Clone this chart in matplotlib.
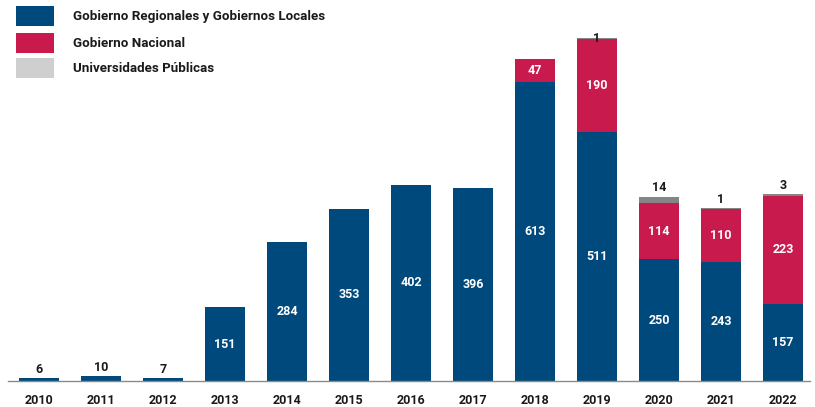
import matplotlib
matplotlib.use("Agg")
import matplotlib.pyplot as plt
from matplotlib.patches import Rectangle
import numpy as np

years = ["2010", "2011", "2012", "2013", "2014", "2015", "2016", "2017", "2018", "2019", "2020", "2021", "2022"]
regional = [6, 10, 7, 151, 284, 353, 402, 396, 613, 511, 250, 243, 157]
nacional = [0, 0, 0, 0, 0, 0, 0, 0, 47, 190, 114, 110, 223]
universidades = [0, 0, 0, 0, 0, 0, 0, 0, 0, 1, 14, 1, 3]
series_names = ["Gobierno Regionales y Gobiernos Locales", "Gobierno Nacional", "Universidades Públicas"]

BLUE = "#00497c"
RED = "#c91a4d"
GREY_BAR = "#858585"
GREY_LEG = "#cfcfcf"

plt.rcParams["font.family"] = ["Roboto", "DejaVu Sans"]

fig = plt.figure(figsize=(8.15, 4.07), dpi=100)
ax = fig.add_axes([8 / 815, 26 / 407, 802 / 815, 381 / 407])

x = np.arange(len(years))
reg = np.array(regional)
nac = np.array(nacional)
uni = np.array(universidades)
w = 40 / 62

ax.bar(x, reg, width=w, color=BLUE, edgecolor="none")
ax.bar(x, nac, width=w, bottom=reg, color=RED, edgecolor="none")
ax.bar(x, uni, width=w, bottom=reg + nac, color=GREY_BAR, edgecolor="none")

lab_kw = dict(ha="center", fontsize=9, fontweight="bold")
for i in range(len(years)):
    total = reg[i] + nac[i] + uni[i]
    if reg[i] >= 50:
        ax.text(x[i], reg[i] / 2, str(reg[i]), va="center", color="white", **lab_kw)
    else:
        ax.annotate(str(reg[i]), (x[i], reg[i]), xytext=(0, 1.5), textcoords="offset points",
                    va="bottom", color="#1a1a1a", **lab_kw)
    if nac[i] > 0:
        ax.text(x[i], reg[i] + nac[i] / 2, str(nac[i]), va="center", color="white", **lab_kw)
    if uni[i] > 0:
        if total > 690:
            ax.annotate(str(uni[i]), (x[i], total), xytext=(0, 0), textcoords="offset points",
                        va="center", color="#1a1a1a", **lab_kw)
        else:
            ax.annotate(str(uni[i]), (x[i], total), xytext=(0, 1.5), textcoords="offset points",
                        va="bottom", color="#1a1a1a", **lab_kw)

ax.set_xlim(-0.5, 12.435)
ax.set_ylim(0, 381 / 0.488)
for s in ["top", "right", "left"]:
    ax.spines[s].set_visible(False)
ax.spines["bottom"].set_color("#8a8a8a")
ax.spines["bottom"].set_linewidth(1.0)
ax.set_yticks([])
ax.set_xticks(x)
ax.set_xticklabels(years, fontsize=9, fontweight="bold", color="#1a1a1a")
ax.tick_params(axis="x", length=0, pad=9)

# legend
leg_colors = [BLUE, RED, GREY_LEG]
leg_y = [6, 33, 58]
for name, col, yt in zip(series_names, leg_colors, leg_y):
    fig.add_artist(Rectangle((16 / 815, 1 - (yt + 20) / 407), 38 / 815, 20 / 407,
                             transform=fig.transFigure, color=col, lw=0))
    fig.text(73 / 815, 1 - (yt + 10.5) / 407, name, fontsize=9.6, fontweight="bold",
             va="center", ha="left", color="#1a1a1a")

fig.savefig("out.png", dpi=100)
